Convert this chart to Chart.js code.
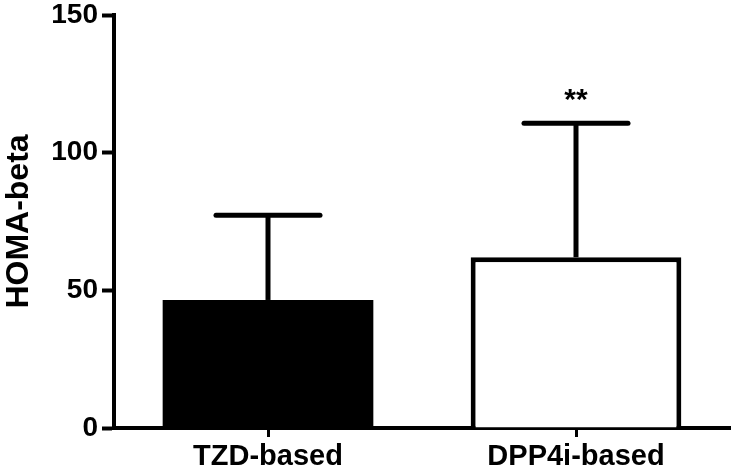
<!DOCTYPE html>
<html>
<head>
<meta charset="utf-8">
<script src="https://cdn.jsdelivr.net/npm/chart.js@4.4.1/dist/chart.umd.min.js"></script>
<style>
html,body{margin:0;padding:0;background:#fff;}
#wrap{width:734px;height:473px;position:relative;}
</style>
</head>
<body>
<div id="wrap"><canvas id="c" width="734" height="473"></canvas></div>
<script>
const categories = ['TZD-based', 'DPP4i-based'];
const means = [46.5, 62.0];
const sds = [30.8, 48.7];
const significance = ['', '**'];
const yTicks = [0, 50, 100, 150];
const yTitle = 'HOMA-beta';

const FONT = "'Liberation Sans', Arial, Helvetica, sans-serif";

const errorBars = {
  id: 'errorBars',
  afterDatasetsDraw(chart) {
    const ctx = chart.ctx;
    const meta = chart.getDatasetMeta(0);
    const y = chart.scales.y;
    ctx.save();
    ctx.strokeStyle = '#000';
    ctx.fillStyle = '#000';
    ctx.lineWidth = 5;
    meta.data.forEach((bar, i) => {
      const x = bar.x;
      const yTop = y.getPixelForValue(means[i] + sds[i]);
      const yBase = y.getPixelForValue(means[i]);
      ctx.beginPath();
      ctx.lineCap = 'butt';
      ctx.moveTo(x, yBase);
      ctx.lineTo(x, yTop);
      ctx.stroke();
      ctx.lineCap = 'round';
      ctx.beginPath();
      ctx.moveTo(x - 52, yTop);
      ctx.lineTo(x + 52, yTop);
      ctx.stroke();
      if (significance[i]) {
        ctx.font = 'bold 30px ' + FONT;
        ctx.textAlign = 'center';
        ctx.textBaseline = 'middle';
        ctx.fillText(significance[i], x, yTop - 22);
      }
    });
    ctx.restore();
  }
};

new Chart(document.getElementById('c'), {
  type: 'bar',
  data: {
    labels: categories,
    datasets: [{
      data: means,
      backgroundColor: ['#000000', '#ffffff'],
      borderColor: '#000000',
      borderWidth: [0, 5],
      borderSkipped: 'bottom',
      barPercentage: 0.684,
      categoryPercentage: 1.0
    }]
  },
  options: {
    responsive: false,
    animation: false,
    devicePixelRatio: 1,
    layout: { padding: { top: 15, right: 4, left: 0, bottom: 0 } },
    plugins: { legend: { display: false }, tooltip: { enabled: false } },
    scales: {
      x: {
        offset: true,
        grid: { display: true, drawOnChartArea: false, offset: false, tickLength: 9, tickWidth: 3, tickColor: '#000' },
        border: { display: true, width: 4, color: '#000' },
        ticks: { color: '#000', font: { family: FONT, size: 29, weight: 'bold' }, padding: 3, maxRotation: 0 },
        afterFit(s) { s.height = 45; s.paddingLeft = 0; s.paddingRight = 0; }
      },
      y: {
        min: 0, max: 150,
        afterBuildTicks(s) { s.ticks = yTicks.map(v => ({ value: v })); },
        grid: { display: true, drawOnChartArea: false, tickLength: 12, tickWidth: 4, tickColor: '#000' },
        border: { display: true, width: 4, color: '#000' },
        ticks: { color: '#000', font: { family: FONT, size: 28, weight: 'bold' }, padding: 4 },
        title: { display: true, text: yTitle, color: '#000', font: { family: FONT, size: 32, weight: 'bold' }, padding: 0 },
        afterFit(s) { s.width = 114; s.paddingTop = 0; s.paddingBottom = 0; }
      }
    }
  },
  plugins: [errorBars]
});
</script>
</body>
</html>
